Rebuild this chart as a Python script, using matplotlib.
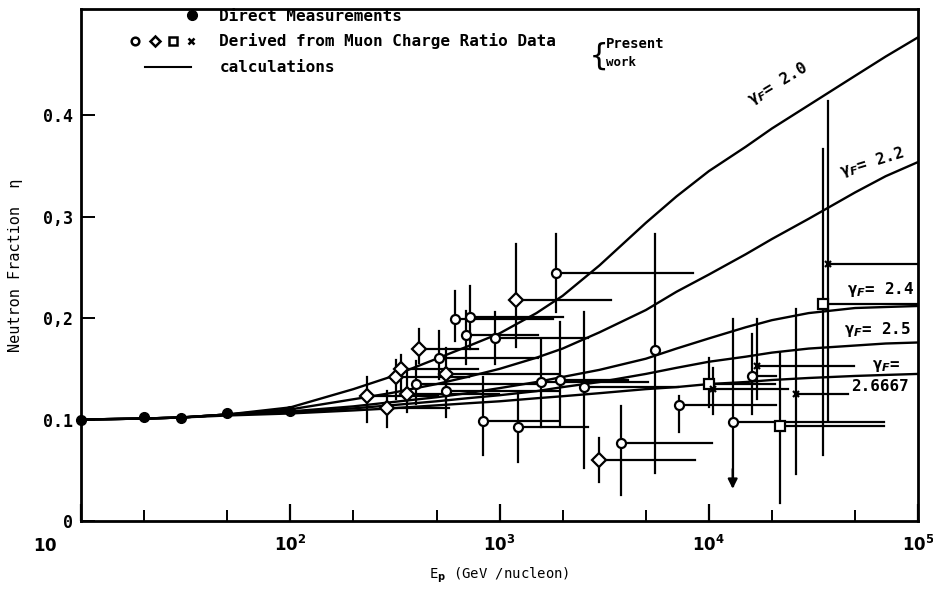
import numpy as np
import matplotlib
matplotlib.use("Agg")
import matplotlib.pyplot as plt
import matplotlib.transforms as mtrans
from matplotlib.ticker import FixedLocator, NullFormatter

# ---------------- data ----------------
# calculated curves (energy grid, neutron fraction for each gamma_F)
curve_E = [10, 20, 30, 50, 100, 200, 300, 500, 700, 1000, 1500, 2000, 3000,
           5000, 7000, 1e4, 1.5e4, 2e4, 3e4, 5e4, 7e4, 1e5]
curve_g20 = [0.100, 0.101, 0.102, 0.105, 0.112, 0.130, 0.142, 0.160, 0.172,
             0.185, 0.205, 0.222, 0.252, 0.294, 0.320, 0.345, 0.369, 0.387,
             0.410, 0.439, 0.458, 0.477]
curve_g22 = [0.100, 0.101, 0.102, 0.105, 0.110, 0.120, 0.126, 0.135, 0.142,
             0.150, 0.161, 0.170, 0.186, 0.208, 0.226, 0.243, 0.263, 0.278,
             0.298, 0.324, 0.340, 0.354]
curve_g24 = [0.100, 0.101, 0.102, 0.105, 0.108, 0.113, 0.117, 0.122, 0.126,
             0.131, 0.137, 0.142, 0.149, 0.160, 0.170, 0.180, 0.191, 0.198,
             0.205, 0.210, 0.211, 0.212]
curve_g25 = [0.100, 0.101, 0.102, 0.105, 0.107, 0.111, 0.114, 0.118, 0.121,
             0.124, 0.128, 0.132, 0.137, 0.145, 0.151, 0.157, 0.162, 0.166,
             0.170, 0.173, 0.175, 0.176]
curve_g26667 = [0.100, 0.101, 0.102, 0.104, 0.106, 0.109, 0.111, 0.114, 0.116,
                0.118, 0.121, 0.123, 0.126, 0.130, 0.132, 0.135, 0.137, 0.139,
                0.141, 0.143, 0.144, 0.145]

# direct measurements
direct_E = [10, 20, 30, 50, 100]
direct_eta = [0.100, 0.103, 0.102, 0.106, 0.108]

# derived from muon charge ratio data
deriv_E = [233, 289, 320, 336, 360, 397, 410, 512, 552, 552, 612, 725, 690,
           830, 955, 1200, 1230, 1580, 1860, 1950, 2540, 3000, 3800, 5500,
           7200, 10000, 10500, 13000, 16000, 17000, 26000, 22000, 35000, 37000]
deriv_eta = [0.123, 0.111, 0.142, 0.150, 0.125, 0.135, 0.170, 0.161, 0.145,
             0.128, 0.199, 0.201, 0.183, 0.099, 0.180, 0.218, 0.093, 0.137,
             0.245, 0.139, 0.132, 0.060, 0.077, 0.169, 0.114, 0.135, 0.130,
             0.098, 0.143, 0.153, 0.125, 0.094, 0.214, 0.253]
deriv_eta_low = [0.098, 0.093, 0.120, 0.128, 0.107, 0.115, 0.156, 0.140, 0.120,
                 0.103, 0.177, 0.170, 0.155, 0.065, 0.155, 0.172, 0.058, 0.093,
                 0.206, 0.095, 0.052, 0.038, 0.026, 0.047, 0.088, 0.112, 0.105,
                 0.034, 0.105, 0.120, 0.046, 0.018, 0.065, 0.100]
deriv_eta_high = [0.142, 0.128, 0.159, 0.164, 0.150, 0.158, 0.189, 0.187, 0.171,
                  0.150, 0.227, 0.232, 0.207, 0.142, 0.206, 0.273, 0.127, 0.179,
                  0.283, 0.196, 0.206, 0.082, 0.113, 0.283, 0.123, 0.161, 0.151,
                  0.199, 0.184, 0.199, 0.209, 0.166, 0.367, 0.414]
deriv_E_high = [510, 570, 710, 790, 990, 1530, 790, 1530, 1900, 1900, 1800,
                2000, 1530, 1900, 2650, 3400, 2650, 5100, 8400, 4100, 7100,
                8600, 10400, 5500, 21000, 20600, 24000, 69000, 21000, 49500,
                46000, 69000, 100000, 100000]
deriv_marker = ['D', 'D', 'D', 'D', 'D', 'o', 'D', 'o', 'D', 'o', 'o', 'o', 'o',
                'o', 'o', 'D', 'o', 'o', 'o', 'o', 'o', 'D', 'o', 'o', 'o', 's',
                'x', 'o', 'o', 'x', 'x', 's', 's', 'x']
upper_limit_index = 27  # point drawn with downward arrow

x_ticks = [10, 100, 1000, 10000, 100000]
x_ticklabels = ["", r"$\mathbf{10^2}$", r"$\mathbf{10^3}$",
                r"$\mathbf{10^4}$", r"$\mathbf{10^5}$"]
first_xlabel = r"$\mathbf{10}$"
y_ticks = [0, 0.1, 0.2, 0.3, 0.4]
y_ticklabels = ["0", "0.1", "0,2", "0,3", "0.4"]

# ---------------- plotting ----------------
plt.rcParams['font.family'] = ['DejaVu Sans Mono', 'DejaVu Sans']
plt.rcParams['font.weight'] = 'bold'
plt.rcParams['mathtext.fontset'] = 'dejavusans'

fig = plt.figure(figsize=(9.33, 5.94), dpi=100)
ax = fig.add_axes([0.087, 0.123, 0.897, 0.862])
ax.set_xscale('log')
ax.set_xlim(10, 1e5)
ax.set_ylim(0, 0.505)

lw = 1.7
for yv in (curve_g20, curve_g22, curve_g24, curve_g25, curve_g26667):
    ax.plot(curve_E, yv, color='black', lw=lw, zorder=3)

# derived points with error bars
for i in range(len(deriv_E)):
    e, y = deriv_E[i], deriv_eta[i]
    ax.plot([e, e], [deriv_eta_low[i], deriv_eta_high[i]], color='black',
            lw=1.6, zorder=2)
    if deriv_E_high[i] > e:
        ax.plot([e, deriv_E_high[i]], [y, y], color='black', lw=1.6, zorder=2)
    m = deriv_marker[i]
    if m == 'x':
        ax.plot(e, y, marker='x', ms=4, mew=1.6, color='black', ls='none',
                zorder=5)
    else:
        ms = 7 if m == 'D' else 6.5
        ax.plot(e, y, marker=m, ms=ms, mew=1.6, mfc='white', mec='black',
                ls='none', zorder=5)

# downward arrow on the upper-limit point
iu = upper_limit_index
ax.annotate('', xy=(deriv_E[iu], deriv_eta_low[iu] - 0.005),
            xytext=(deriv_E[iu], deriv_eta_low[iu] + 0.02),
            arrowprops=dict(arrowstyle='-|>', color='black', lw=1.6,
                            mutation_scale=14), zorder=4)

# direct measurements
ax.plot(direct_E, direct_eta, marker='o', ms=7, color='black', ls='none',
        zorder=6, clip_on=False)

# axes styling
for sp in ax.spines.values():
    sp.set_linewidth(2.0)
ax.xaxis.set_major_locator(FixedLocator(x_ticks))
ax.set_xticklabels(x_ticklabels, fontsize=12)
minor = []
for d in (10, 100, 1000, 10000):
    minor += [2 * d, 5 * d]
ax.xaxis.set_minor_locator(FixedLocator(minor))
ax.xaxis.set_minor_formatter(NullFormatter())
ax.tick_params(axis='x', which='major', direction='in', length=12, width=1.6,
               pad=10, top=False)
ax.tick_params(axis='x', which='minor', direction='in', length=8, width=1.4,
               top=False)
ax.set_yticks(y_ticks)
ax.set_yticklabels(y_ticklabels, fontsize=12, fontweight='bold')
ax.tick_params(axis='y', direction='in', length=10, width=1.4, pad=6,
               right=False)
# "10" label sits to the left of the corner in the original
off = mtrans.offset_copy(ax.get_xaxis_transform(), fig=fig, x=-36, y=-16,
                         units='dots')
ax.text(x_ticks[0], 0, first_xlabel, transform=off, fontsize=12,
        ha='center', va='top')

ax.set_xlabel(r"E$_\mathrm{p}$ (GeV /nucleon)", fontsize=10, labelpad=8)
ax.set_ylabel("Neutron Fraction  η", fontsize=11, labelpad=14)

# curve labels
ax.text(0.832, 0.855, "γ$_F$= 2.0", transform=ax.transAxes, rotation=31,
        fontsize=11.5, ha='center', va='center')
ax.text(0.945, 0.700, "γ$_F$= 2.2", transform=ax.transAxes, rotation=17,
        fontsize=11.5, ha='center', va='center')
ax.text(0.955, 0.452, "γ$_F$= 2.4", transform=ax.transAxes,
        fontsize=11.5, ha='center', va='center')
ax.text(0.952, 0.374, "γ$_F$= 2.5", transform=ax.transAxes,
        fontsize=11.5, ha='center', va='center')
ax.text(0.962, 0.302, "γ$_F$=", transform=ax.transAxes,
        fontsize=11.5, ha='center', va='center')
ax.text(0.955, 0.262, "2.6667", transform=ax.transAxes,
        fontsize=11.5, ha='center', va='center')

# legend (drawn inside the frame)
tr = ax.transAxes
ax.plot([0.133], [0.988], marker='o', ms=7, color='black', transform=tr,
        clip_on=False)
ax.text(0.165, 0.985, "Direct Measurements", transform=tr, fontsize=11.5,
        va='center')
for xm, mk in zip([0.064, 0.088, 0.110, 0.131], ['o', 'D', 's', 'x']):
    if mk == 'x':
        ax.plot([xm], [0.937], marker=mk, ms=5, mew=1.8, color='black',
                transform=tr, clip_on=False)
    else:
        ax.plot([xm], [0.937], marker=mk, ms=5.5, mew=1.8, mfc='white',
                mec='black', transform=tr, clip_on=False)
ax.text(0.165, 0.937, "Derived from Muon Charge Ratio Data", transform=tr,
        fontsize=11.5, va='center')
ax.plot([0.076, 0.131], [0.886, 0.886], color='black', lw=1.5, transform=tr)
ax.text(0.165, 0.886, "calculations", transform=tr, fontsize=11.5, va='center')
ax.text(0.608, 0.908, "{", transform=tr, fontsize=22, va='center',
        fontweight='normal')
ax.text(0.627, 0.932, "Present", transform=tr, fontsize=10, va='center')
ax.text(0.627, 0.895, "work", transform=tr, fontsize=9, va='center')

fig.savefig("out.png", dpi=100)
